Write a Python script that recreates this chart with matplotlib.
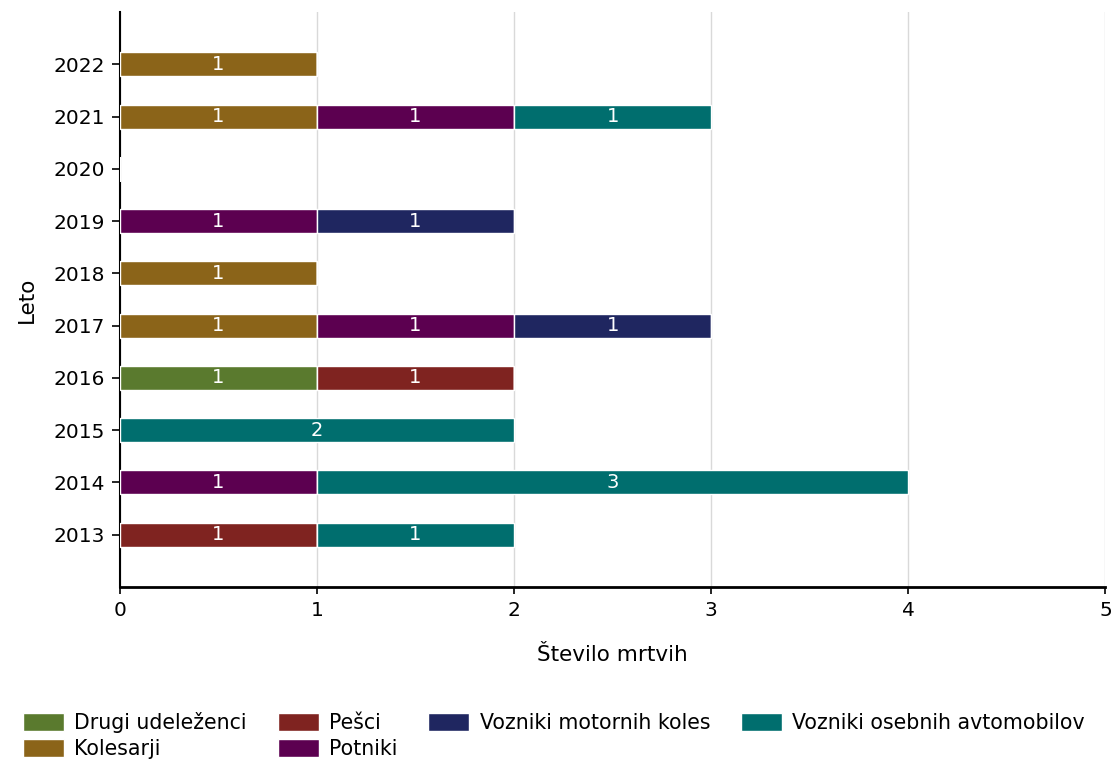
import matplotlib
matplotlib.use("Agg")
import matplotlib.pyplot as plt
import numpy as np

years = [2013, 2014, 2015, 2016, 2017, 2018, 2019, 2020, 2021, 2022]
series_names = ["Drugi udeleženci", "Kolesarji", "Pešci", "Potniki",
                "Vozniki motornih koles", "Vozniki osebnih avtomobilov"]
drugi = [0, 0, 0, 1, 0, 0, 0, 0, 0, 0]
kolesarji = [0, 0, 0, 0, 1, 1, 0, 0, 1, 1]
pesci = [1, 0, 0, 1, 0, 0, 0, 0, 0, 0]
potniki = [0, 1, 0, 0, 1, 0, 1, 0, 1, 0]
vozniki_mk = [0, 0, 0, 0, 1, 0, 1, 0, 0, 0]
vozniki_oa = [1, 3, 2, 0, 0, 0, 0, 0, 1, 0]
colors = ["#5a7a2e", "#8b6419", "#7f2320", "#5c0050", "#1f2660", "#006e6e"]

plt.rcParams['font.family'] = ['DejaVu Sans']
fig = plt.figure(figsize=(11.2, 7.64), dpi=100)
ax = fig.add_axes([0.107, 0.232, 0.880, 0.752])

ypos = np.arange(len(years))
left = np.zeros(len(years))
handles = []
for name, vals, col in zip(series_names,
                           [drugi, kolesarji, pesci, potniki, vozniki_mk, vozniki_oa],
                           colors):
    vals = np.array(vals, dtype=float)
    bars = ax.barh(ypos, vals, left=left, height=0.46, color=col,
                   edgecolor="white", linewidth=1, label=name, zorder=3)
    for b, v in zip(bars, vals):
        if v > 0:
            ax.text(b.get_x() + b.get_width() / 2, b.get_y() + b.get_height() / 2,
                    f"{int(v)}", ha="center", va="center", color="white",
                    fontsize=14, zorder=4)
    left += vals
    handles.append(bars)

ax.set_xlim(0, 5)
ax.set_ylim(-1, len(years))
ax.set_yticks(ypos)
ax.set_yticklabels([str(y) for y in years], fontsize=14.5)
ax.set_xticks(range(6))
ax.tick_params(axis='x', labelsize=14.5, length=5, width=1.2, pad=5)
ax.tick_params(axis='y', length=6, width=1.2, pad=5)
ax.grid(axis='x', color="#d9d9d9", linewidth=1, zorder=0)
for s in ["top", "right"]:
    ax.spines[s].set_visible(False)
ax.spines["left"].set_linewidth(1.5)
ax.spines["bottom"].set_linewidth(2)
ax.set_xlabel("Število mrtvih", fontsize=15.5, labelpad=18)
ax.set_ylabel("Leto", fontsize=15.5, labelpad=12)

fig.legend(handles=handles, labels=series_names, loc="lower left",
           bbox_to_anchor=(0.004, -0.018), ncol=4, frameon=False, fontsize=14.8,
           handlelength=2.0, handleheight=1.0, columnspacing=1.5,
           handletextpad=0.5, labelspacing=0.3)

fig.savefig("out.png", dpi=100)
